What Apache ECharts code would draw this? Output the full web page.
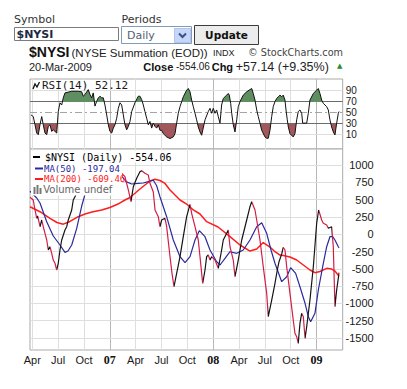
<!DOCTYPE html>
<html>
<head>
<meta charset="utf-8">
<script src="https://cdn.jsdelivr.net/npm/echarts@6.0.0/dist/echarts.min.js"></script>
<style>
html,body{margin:0;padding:0;background:#fff;}
#chart{width:407px;height:389px;}
</style>
</head>
<body>
<div id="chart"></div>
<script>
// x values are months since 1 Jan 2006 (3 = Apr 2006, 12 = Jan 2007, 36 = Jan 2009)
const nysiDates = [2.74,3.12,3.32,3.52,3.63,3.90,4.10,4.28,4.48,4.68,4.86,5.06,5.26,5.44,5.64,5.84,6.02,6.22,6.42,6.80,7.00,7.18,7.58,7.76,7.96,8.54,9.24,9.93,10.63,11.33,12.02,12.60,13.18,13.76,14.15,14.46,14.73,15.12,15.50,15.70,16.08,16.47,16.66,17.05,17.25,17.63,17.82,18.02,18.41,18.60,18.99,19.22,19.45,19.76,20.15,20.53,20.92,21.31,21.50,21.89,22.27,22.47,22.78,23.05,23.24,23.43,23.63,23.82,24.21,24.59,24.98,25.17,25.57,25.75,25.95,26.33,26.53,26.91,27.31,27.89,28.27,28.47,28.85,29.05,29.43,29.81,30.21,30.39,30.79,31.17,31.44,31.63,31.95,32.13,32.33,32.53,32.91,33.29,33.49,33.69,33.87,34.07,34.27,34.46,34.66,34.85,35.23,35.62,36.01,36.24,36.59,36.78,37.17,37.36,37.75,37.94,38.13,38.33,38.61];
const nysiValues = [533,494,350,230,263,108,205,108,13,-84,-228,-181,-276,-373,-420,-517,-420,-228,-84,61,108,205,350,494,542,711,899,1043,1130,1144,1043,957,903,831,639,470,686,808,903,918,880,855,736,610,350,253,108,205,230,108,-325,-565,-759,-565,-325,-36,253,432,302,108,-84,-325,-710,-517,-325,-301,-373,-325,-373,-493,-228,-84,13,61,-181,-373,-614,-373,-84,205,397,470,350,205,-84,-470,-854,-1192,-951,-710,-517,-402,-286,-189,-228,-470,-854,-1240,-1432,-1481,-1577,-1288,-1143,-1192,-1504,-1337,-951,-470,158,350,205,158,133,85,108,-181,-1048,-806,-554.06];

const ma50Dates = [2.74,3.52,3.90,4.68,5.44,6.22,6.80,7.15,7.58,8.16,8.74,9.32,9.93,10.63,11.44,12.25,12.80,13.38,13.88,14.54,15.27,15.89,16.47,17.05,17.44,17.82,18.60,19.37,20.15,20.73,21.31,21.89,22.39,23.05,23.63,24.40,24.79,25.37,25.95,26.73,27.49,28.27,29.05,29.63,30.21,30.71,31.17,31.95,32.53,32.99,33.57,34.07,34.66,35.04,35.31,35.81,36.20,36.78,37.17,37.55,37.87,38.13,38.52,38.61];
const ma50Values = [620,523,451,181,-26,-156,-262,-243,-156,85,407,663,812,899,957,964,928,841,759,725,733,740,759,780,700,542,253,-84,-325,-412,-325,-84,51,-36,-228,-397,-445,-348,-253,-276,-228,-84,108,166,13,-228,-420,-686,-614,-484,-565,-759,-998,-1192,-1264,-1143,-806,-420,-181,-36,-36,-84,-181,-197.04];

const ma200Dates = [2.74,3.90,5.06,5.87,6.60,7.38,8.34,9.12,9.93,11.06,12.02,12.95,13.76,14.34,14.92,15.50,16.08,16.66,17.25,17.82,18.41,18.99,19.57,20.15,20.92,21.69,22.47,23.24,24.56,25.95,27.11,28.27,29.05,29.81,30.59,31.17,31.75,32.13,32.91,33.69,34.46,35.23,35.81,36.39,37.17,37.75,38.13,38.61];
const ma200Values = [397,325,230,169,145,184,253,292,321,350,386,436,494,530,591,653,711,769,793,776,733,639,566,494,436,350,292,181,104,-36,-156,-243,-214,-120,-185,-253,-301,-308,-329,-373,-445,-517,-556,-539,-493,-503,-532,-609.46];

const rsiDates = [2.86,3.12,3.32,3.52,3.70,3.90,4.10,4.28,4.48,4.68,4.86,5.06,5.26,5.44,5.64,5.84,6.02,6.22,6.42,6.60,6.80,7.58,8.34,8.74,8.92,9.12,9.50,9.70,9.90,10.08,10.28,10.48,10.67,10.86,11.06,11.25,11.44,11.64,11.83,12.02,12.22,12.41,12.60,12.80,12.99,13.18,13.38,13.57,13.76,13.96,14.15,14.34,14.54,14.92,15.31,15.50,15.70,15.89,16.08,16.28,16.47,16.66,16.86,17.05,17.25,17.44,17.63,17.82,18.02,18.21,18.60,18.99,19.37,19.57,19.76,19.95,20.15,20.53,20.92,21.11,21.31,21.50,21.69,21.89,22.08,22.27,22.47,22.66,23.05,23.43,23.63,23.82,24.01,24.21,24.40,24.59,24.79,24.98,25.17,25.57,25.75,25.87,26.03,26.15,26.33,26.53,26.73,26.91,27.11,27.49,27.89,28.27,28.47,28.65,28.85,29.05,29.23,29.43,29.63,30.01,30.21,30.39,30.59,30.79,30.97,31.17,31.37,31.56,31.75,31.95,32.13,32.33,32.45,32.60,32.72,32.91,33.29,33.49,33.69,33.87,34.07,34.27,34.39,34.66,34.85,35.04,35.23,35.62,36.01,36.20,36.39,36.59,36.78,37.17,37.36,37.55,37.75,37.94,38.13,38.33,38.52,38.61];
const rsiValues = [46,43,28,13,10,28,43,28,13,10,25,28,16,19,16,13,52,68,64,77,86,89,89,88,80,83,92,83,77,86,62,71,77,80,77,77,64,46,28,16,13,22,28,40,58,68,64,46,28,19,25,34,52,68,80,80,74,64,52,40,28,34,22,31,25,22,28,18,18,12,6,3,6,12,31,49,61,79,91,94,88,73,61,49,37,24,15,9,37,52,58,49,58,49,55,43,31,64,76,82,85,82,67,49,28,15,37,61,70,82,88,92,94,85,73,55,43,31,18,6,3.5,3.5,18,43,61,70,76,79,82,79,82,73,55,37,24,12,6,12,37,52,55,49,31,31,31,49,73,85,91,94,85,73,67,61,55,37,24,15,9.5,31,49,52.12];

const tickMonths = [3,6,9,12,15,18,21,24,27,30,33,36];
const tickLabels = ['Apr','Jul','Oct','07','Apr','Jul','Oct','08','Apr','Jul','Oct','09'];
const priceTicks = [-1500,-1250,-1000,-750,-500,-250,0,250,500,750,1000];
const rsiTicks = [10,30,50,70,90];
const rsiBands = [30,70];

// ---------- styles ----------
const RISE = '#141414', FALL = '#d21c46', MA50C = '#2a2a9e', MA200C = '#ff1c1c';
const RSI_GREEN = '#5f8f60', RSI_RED = '#a2585a';
const GRID_LIGHT = '#dedede', GRID_YEAR = '#b8b8b8', FRAME = '#a9a9a9';
const X_MIN = 2.74, X_MAX = 39.03;

const zip = (a, b) => a.map((d, i) => [d, b[i]]);
const nysi = zip(nysiDates, nysiValues);
const ma50 = zip(ma50Dates, ma50Values);
const ma200 = zip(ma200Dates, ma200Values);
const rsi = zip(rsiDates, rsiValues);

// colour pieces: black where the index rose, red where it fell
const pieces = [];
for (let i = 1; i < nysi.length; i++) {
  const c = nysi[i][1] >= nysi[i - 1][1] ? RISE : FALL;
  const last = pieces[pieces.length - 1];
  if (last && last.color === c) last.lte = nysi[i][0];
  else pieces.push({ gt: nysi[i - 1][0], lte: nysi[i][0], color: c });
}

const vLines = tickMonths.map(m => ({ xAxis: m, lineStyle: { color: m % 12 === 0 ? GRID_YEAR : GRID_LIGHT, width: 1, type: 'solid' } }));
const priceLines = priceTicks.map(v => ({ yAxis: v, lineStyle: { color: GRID_LIGHT, width: 1, type: 'solid' } }));
const rsiLines = [
  { yAxis: rsiTicks[0], lineStyle: { color: GRID_LIGHT, width: 1, type: 'solid' } },
  { yAxis: rsiTicks[4], lineStyle: { color: GRID_LIGHT, width: 1, type: 'solid' } },
  { yAxis: rsiTicks[2], lineStyle: { color: '#a4a4a4', width: 1, type: [7, 3, 2, 3] } },
  { yAxis: rsiBands[1], lineStyle: { color: '#6c6c6c', width: 1, type: 'solid' } },
  { yAxis: rsiBands[0], lineStyle: { color: '#6c6c6c', width: 1, type: 'solid' } }
];
const mk = (data) => ({ silent: true, z: 1, symbol: ['none', 'none'], label: { show: false }, animation: false, data });

const labelFont = 'Liberation Sans';
const chart = echarts.init(document.getElementById('chart'), null, { renderer: 'svg' });

const T = (x, y, text, font, fill, align) => ({
  type: 'text', x, y, z: 100,
  style: { text, font, fill: fill || '#222', textAlign: align || 'left', textVerticalAlign: 'middle' }
});

chart.setOption({
  animation: false,
  backgroundColor: '#fff',
  grid: [
    { left: 30, top: 79, width: 312.7, height: 70, show: true, borderColor: FRAME, borderWidth: 1, backgroundColor: '#fff' },
    { left: 30, top: 149, width: 312.7, height: 201, show: true, borderColor: FRAME, borderWidth: 1, backgroundColor: '#fff' }
  ],
  xAxis: [
    { type: 'value', gridIndex: 0, min: X_MIN, max: X_MAX, axisLabel: { show: false }, axisTick: { show: false }, axisLine: { show: false }, splitLine: { show: false } },
    { type: 'value', gridIndex: 1, min: X_MIN, max: X_MAX,
      axisLabel: {
        customValues: tickMonths, margin: 4, fontSize: 11, fontFamily: labelFont, color: '#1a1a1a',
        formatter: v => { const i = tickMonths.indexOf(v); const t = tickLabels[i]; return v % 12 === 0 ? '{y|' + t + '}' : t; },
        rich: { y: { fontWeight: 'bold', fontFamily: 'Liberation Serif', fontSize: 12, color: '#111' } }
      },
      axisTick: { show: false }, axisLine: { show: false }, splitLine: { show: false } }
  ],
  yAxis: [
    { type: 'value', gridIndex: 0, position: 'right', min: -16, max: 111.3,
      axisLabel: { customValues: rsiTicks, margin: 3, fontSize: 10, fontFamily: labelFont, color: '#1a1a1a', formatter: v => String(v) },
      axisTick: { show: false }, axisLine: { show: false }, splitLine: { show: false } },
    { type: 'value', gridIndex: 1, position: 'right', min: -1673, max: 1231,
      axisLabel: { customValues: priceTicks, margin: 31, align: 'right', fontSize: 11, fontFamily: labelFont, color: '#1a1a1a', formatter: v => String(v) },
      axisTick: { show: false }, axisLine: { show: false }, splitLine: { show: false } }
  ],
  visualMap: [
    { type: 'piecewise', show: false, seriesIndex: 1, dimension: 1,
      pieces: [ { lte: rsiBands[0], color: RSI_RED }, { gt: rsiBands[0], lt: rsiBands[1], color: 'rgba(0,0,0,0)' }, { gte: rsiBands[1], color: RSI_GREEN } ] },
    { type: 'piecewise', show: false, seriesIndex: 6, dimension: 0, pieces, outOfRange: { color: FALL } }
  ],
  series: [
    { type: 'line', xAxisIndex: 0, yAxisIndex: 0, z: 1, data: [[tickMonths[0], rsiTicks[2]]], symbol: 'none', lineStyle: { width: 0 }, silent: true,
      markLine: mk(vLines.concat(rsiLines)) },
    { type: 'line', xAxisIndex: 0, yAxisIndex: 0, data: rsi, symbol: 'none', silent: true,
      lineStyle: { width: 0 }, areaStyle: { origin: 50, opacity: 1 } },
    { type: 'line', xAxisIndex: 0, yAxisIndex: 0, data: rsi, symbol: 'none', silent: true,
      lineStyle: { color: '#111', width: 1 } },
    { type: 'line', xAxisIndex: 1, yAxisIndex: 1, z: 1, data: [[tickMonths[0], priceTicks[0]]], symbol: 'none', lineStyle: { width: 0 }, silent: true,
      markLine: mk(vLines.concat(priceLines)) },
    { type: 'line', xAxisIndex: 1, yAxisIndex: 1, data: ma200, symbol: 'none', silent: true,
      lineStyle: { color: MA200C, width: 1.5 } },
    { type: 'line', xAxisIndex: 1, yAxisIndex: 1, data: ma50, symbol: 'none', silent: true,
      lineStyle: { color: MA50C, width: 1.2 } },
    { type: 'line', xAxisIndex: 1, yAxisIndex: 1, data: nysi, symbol: 'none', silent: true,
      lineStyle: { width: 1.2 } }
  ],
  graphic: [
    // form
    T(14, 19, 'Symbol', '11px "DejaVu Sans"', '#333'),
    { type: 'rect', z: 100, shape: { x: 14.5, y: 27.5, width: 104, height: 13 }, style: { fill: '#fff', stroke: '#7c7c7c', lineWidth: 1 } },
    T(16.5, 34.5, '$NYSI', 'bold 11px "DejaVu Sans"', '#1e2a44'),
    T(121.5, 19.5, 'Periods', '11px "DejaVu Sans"', '#333'),
    { type: 'rect', z: 100, shape: { x: 121.5, y: 26.5, width: 70, height: 17 }, style: { fill: '#fff', stroke: '#7f9db9', lineWidth: 1 } },
    T(127, 35.5, 'Daily', '11px "DejaVu Sans"', '#4f6078'),
    { type: 'rect', z: 100, shape: { x: 174.5, y: 28.5, width: 16, height: 14 }, style: { fill: '#c6d6fa', stroke: '#b2c4ea', lineWidth: 1 } },
    { type: 'polyline', z: 101, shape: { points: [[179, 33.5], [182.5, 37], [186, 33.5]] }, style: { fill: null, stroke: '#3b4f80', lineWidth: 2 } },
    { type: 'rect', z: 100, shape: { x: 194.5, y: 25.5, width: 64, height: 19 }, style: { fill: '#ececec', stroke: '#3c3c3c', lineWidth: 1 } },
    T(226.5, 35, 'Update', 'bold 10.5px "DejaVu Sans"', '#111', 'center'),
    // title
    T(29, 52, '$NYSI', 'bold 14px "Liberation Sans"', '#111'),
    T(71.5, 52.5, '(NYSE Summation (EOD))', '11.5px "Liberation Sans"', '#222'),
    T(213, 52.5, 'INDX', '9px "Liberation Sans"', '#222'),
    T(248, 52.5, '\u00a9 StockCharts.com', '9.7px "DejaVu Sans"', '#444'),
    T(29, 66.5, '20-Mar-2009', '11px "Liberation Sans"', '#222'),
    T(143.3, 66.5, 'Close', 'bold 11px "Liberation Sans"', '#111'),
    T(176, 66.5, '-554.06', '10px "Liberation Sans"', '#222'),
    T(211.7, 66.5, 'Chg', 'bold 11px "Liberation Sans"', '#111'),
    T(235.7, 66.5, '+57.14 (+9.35%)', '12.5px "Liberation Sans"', '#222'),
    T(337, 66, '\u25b2', '7px "DejaVu Sans"', '#2a8a2a'),
    // RSI label
    { type: 'polyline', z: 100, shape: { points: [[33, 89], [35, 84], [37, 87], [39.5, 82]] }, style: { fill: null, stroke: '#111', lineWidth: 1.3 } },
    T(42, 85.5, 'RSI(14) 52.12', '11px "DejaVu Sans Mono"', '#1a1a1a'),
    // legend (covers the lines behind it)
    { type: 'rect', z: 99, shape: { x: 31, y: 150.5, width: 143, height: 12 }, style: { fill: '#fff' } },
    { type: 'rect', z: 99, shape: { x: 31, y: 162.5, width: 91, height: 33 }, style: { fill: '#fff' } },
    { type: 'line', z: 100, shape: { x1: 33, y1: 157, x2: 40, y2: 157 }, style: { stroke: '#000', lineWidth: 2 } },
    T(45, 157, '$NYSI (Daily) -554.06', '10px "DejaVu Sans Mono"', '#000'),
    { type: 'line', z: 100, shape: { x1: 35, y1: 168.5, x2: 43, y2: 168.5 }, style: { stroke: MA50C, lineWidth: 2 } },
    T(44, 168.5, 'MA(50) -197.04', '9px "DejaVu Sans Mono"', MA50C),
    { type: 'line', z: 100, shape: { x1: 35, y1: 179, x2: 43, y2: 179 }, style: { stroke: MA200C, lineWidth: 2 } },
    T(44, 179, 'MA(200) -609.46', '9px "DejaVu Sans Mono"', MA200C),
    { type: 'rect', z: 100, shape: { x: 33.5, y: 187, width: 2, height: 7 }, style: { fill: '#777' } },
    { type: 'rect', z: 100, shape: { x: 36.5, y: 185, width: 2, height: 9 }, style: { fill: '#777' } },
    { type: 'rect', z: 100, shape: { x: 39.5, y: 188, width: 2, height: 6 }, style: { fill: '#777' } },
    T(43.3, 189.5, 'Volume undef', '10px "DejaVu Sans"', '#666')
  ]
});
</script>
</body>
</html>
